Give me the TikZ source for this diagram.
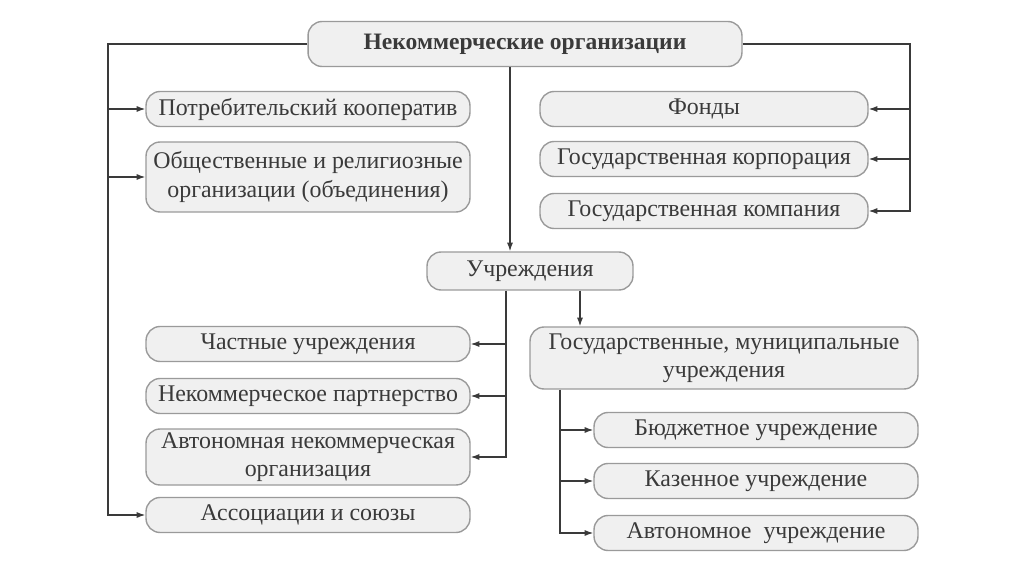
\documentclass[tikz,border=0pt]{standalone}
\usepackage{fontspec}
\setmainfont{Liberation Serif}
\usetikzlibrary{arrows.meta}
\definecolor{boxfill}{HTML}{F0F0F0}
\definecolor{boxline}{HTML}{9A9A9A}
\definecolor{ink}{HTML}{3A3A3A}
\begin{document}
\begin{tikzpicture}[x=0.02cm,y=-0.02cm,
    box/.style={draw=boxline,fill=boxfill,rounded corners=8pt,line width=0.8pt,
                text=ink,font=\fontsize{13.6}{16}\selectfont,align=center,
                minimum height=0.7cm,inner sep=2pt},
    link/.style={draw=ink,line width=0.7pt},
    >={Latex[length=5pt,width=3.5pt]}]
    \useasboundingbox (0,0) rectangle (1024,574);
    % main box
    \node[box,minimum width=8.68cm,minimum height=0.9cm,font=\fontsize{13.4}{16}\selectfont\bfseries] (top) at (525,44) {Некоммерческие организации};
    % left column
    \node[box,minimum width=6.48cm] (potr) at (308,109) {Потребительский кооператив};
    \node[box,minimum width=6.48cm,minimum height=1.4cm] (obsh) at (308,177) {Общественные и религиозные\\организации (объединения)};
    \node[box,minimum width=6.48cm] (chast) at (308,344) {Частные учреждения};
    \node[box,minimum width=6.48cm] (partn) at (308,396) {Некоммерческое партнерство};
    \node[box,minimum width=6.48cm,minimum height=1.06cm] (anko) at (308,457) {Автономная некоммерческая\\организация};
    \node[box,minimum width=6.48cm] (assoc) at (308,515) {Ассоциации и союзы};
    % right column
    \node[box,minimum width=6.56cm] (fond) at (704,109) {Фонды};
    \node[box,minimum width=6.56cm] (korp) at (704,159) {Государственная корпорация};
    \node[box,minimum width=6.56cm] (komp) at (704,211) {Государственная компания};
    % institutions
    \node[box,minimum width=4.12cm,minimum height=0.76cm] (uchr) at (530,271) {Учреждения};
    \node[box,minimum width=7.76cm,minimum height=1.24cm] (gos) at (724,358) {Государственные, муниципальные\\учреждения};
    \node[box,minimum width=6.48cm] (bud) at (756,430) {Бюджетное учреждение};
    \node[box,minimum width=6.48cm] (kaz) at (756,481) {Казенное учреждение};
    \node[box,minimum width=6.48cm] (avt) at (756,533) {Автономное~ учреждение};
    % trunks
    \coordinate (lt) at (108,44);
    \coordinate (rt) at (910,44);
    \coordinate (ut) at ([xshift=-0.48cm]uchr.south);
    \coordinate (gt) at ([xshift=-3.28cm]gos.south);
    % left branch
    \draw[link,->] (top.west) -- (lt) |- (assoc.west);
    \draw[link,->] (lt |- potr.west) -- (potr.west);
    \draw[link,->] (lt |- obsh.west) -- (obsh.west);
    % right branch
    \draw[link,->] (top.east) -- (rt) |- (komp.east);
    \draw[link,->] (rt |- fond.east) -- (fond.east);
    \draw[link,->] (rt |- korp.east) -- (korp.east);
    % down to institutions
    \draw[link,->] ([xshift=-0.3cm]top.south) -- ([xshift=-0.3cm]top.south |- uchr.north);
    \draw[link,->] (ut) |- (anko.east);
    \draw[link,->] (ut |- chast.east) -- (chast.east);
    \draw[link,->] (ut |- partn.east) -- (partn.east);
    \draw[link,->] ([xshift=1cm]uchr.south) -- ([xshift=1cm]uchr.south |- gos.north);
    \draw[link,->] (gt) |- (avt.west);
    \draw[link,->] (gt |- bud.west) -- (bud.west);
    \draw[link,->] (gt |- kaz.west) -- (kaz.west);
\end{tikzpicture}
\end{document}
